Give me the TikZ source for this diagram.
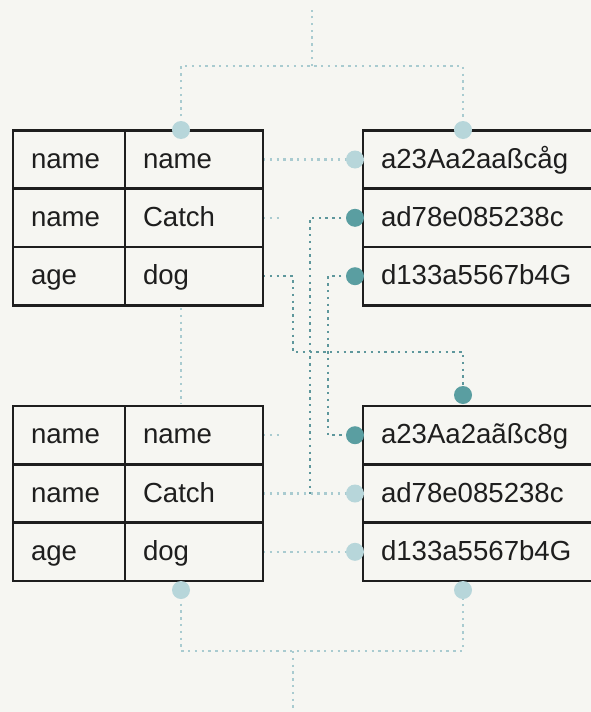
\documentclass[tikz,border=0pt]{standalone}
\usepackage{fontspec}
\setmainfont{Liberation Sans}
\definecolor{paper}{HTML}{F6F6F2}
\definecolor{ink}{HTML}{1E1E1E}
\definecolor{palelink}{HTML}{A9CBD0}
\definecolor{deeplink}{HTML}{5E979C}
\definecolor{paledot}{HTML}{B7D6DA}
\definecolor{deepdot}{HTML}{5A9EA1}
\tikzset{
  cellbox/.style={draw=ink, line width=2.5pt, rectangle, outer sep=0pt,
    minimum height=58.33pt, inner xsep=18pt, inner ysep=0pt, anchor=west,
    align=left, text=ink, font=\fontsize{27.6}{32}\selectfont,
    text height=22pt, text depth=5pt},
  keycell/.style={cellbox, text width=76pt},
  valcell/.style={cellbox, text width=102pt},
  hashcell/.style={cellbox, text width=220pt},
  pin/.style={circle, inner sep=0pt, minimum size=18pt},
  palepin/.style={pin, fill=paledot},
  deeppin/.style={pin, fill=deepdot},
  link/.style={line width=2.4pt, line cap=butt, dash pattern=on 2.4pt off 4.4pt},
  palelinkstyle/.style={link, draw=palelink},
  deeplinkstyle/.style={link, draw=deeplink},
}
\begin{document}
\begin{tikzpicture}[x=1pt,y=-1pt]
\fill[paper] (0,0) rectangle (591,712);
\useasboundingbox (0,0) rectangle (591,712);

% connector bends and free ends
\coordinate (topjoin) at (312,66);
\coordinate (topend) at (312,10);
\coordinate (botjoin) at (293,651);
\coordinate (botend) at (293,712);
\coordinate (stubA) at (283,217.8);
\coordinate (stubB) at (283,435.2);
\coordinate (gapA) at (181,308);
\coordinate (gapB) at (181,404);

% pin centres
\coordinate (dTL) at (181,130);
\coordinate (dTR) at (463,130);
\coordinate (dBL) at (181,590);
\coordinate (dBR) at (463,590);
\coordinate (dMid) at (463,395);
\coordinate (r1) at (355,159.5);
\coordinate (r2) at (355,217.8);
\coordinate (r3) at (355,276.2);
\coordinate (s1) at (355,435.2);
\coordinate (s2) at (355,493.5);
\coordinate (s3) at (355,551.8);

% connectors (under the tables)
\draw[palelinkstyle] (dTL) |- (topjoin) -| (dTR);
\draw[palelinkstyle] (topjoin) -- (topend);
\draw[palelinkstyle] (dBL) |- (botjoin) -| (dBR);
\draw[palelinkstyle] (botjoin) -- (botend);
\draw[palelinkstyle] (gapA) -- (gapB);

% upper table rows
\draw[palelinkstyle] (263,159.5) -- (r1);
\draw[palelinkstyle] (263,217.8) -- (stubA);
\draw[deeplinkstyle] (263,276.2) -- (293,276.2) -- (293,352) -| (dMid);
\draw[deeplinkstyle] (r2) -- (310,217.8) -- (310,493.5);
\draw[deeplinkstyle] (r3) -- (328,276.2) |- (s1);

% lower table rows
\draw[palelinkstyle] (263,435.2) -- (stubB);
\draw[palelinkstyle] (263,493.5) -- (s2);
\draw[palelinkstyle] (263,551.8) -- (s3);

% upper record table
\node[keycell] (a11) at (13,159.5) {name};
\node[valcell] (a12) at (125,159.5) {name};
\node[keycell] (a21) at (13,217.8) {name};
\node[valcell] (a22) at (125,217.8) {Catch};
\node[keycell] (a31) at (13,276.2) {age};
\node[valcell] (a32) at (125,276.2) {dog};

% upper hash column
\node[hashcell] (h11) at (363,159.5) {a23Aa2aaßcåg};
\node[hashcell] (h12) at (363,217.8) {ad78e085238c};
\node[hashcell] (h13) at (363,276.2) {d133a5567b4G};

% lower record table
\node[keycell] (b11) at (13,435.2) {name};
\node[valcell] (b12) at (125,435.2) {name};
\node[keycell] (b21) at (13,493.5) {name};
\node[valcell] (b22) at (125,493.5) {Catch};
\node[keycell] (b31) at (13,551.8) {age};
\node[valcell] (b32) at (125,551.8) {dog};

% lower hash column
\node[hashcell] (h21) at (363,435.2) {a23Aa2aãßc8g};
\node[hashcell] (h22) at (363,493.5) {ad78e085238c};
\node[hashcell] (h23) at (363,551.8) {d133a5567b4G};

% pins drawn last
\node[palepin] (pTL) at (dTL) {};
\node[palepin] (pTR) at (dTR) {};
\node[palepin] (pBL) at (dBL) {};
\node[palepin] (pBR) at (dBR) {};
\node[deeppin] (pMid) at (dMid) {};
\node[palepin] (pr1) at (r1) {};
\node[deeppin] (pr2) at (r2) {};
\node[deeppin] (pr3) at (r3) {};
\node[deeppin] (ps1) at (s1) {};
\node[palepin] (ps2) at (s2) {};
\node[palepin] (ps3) at (s3) {};
\end{tikzpicture}
\end{document}
